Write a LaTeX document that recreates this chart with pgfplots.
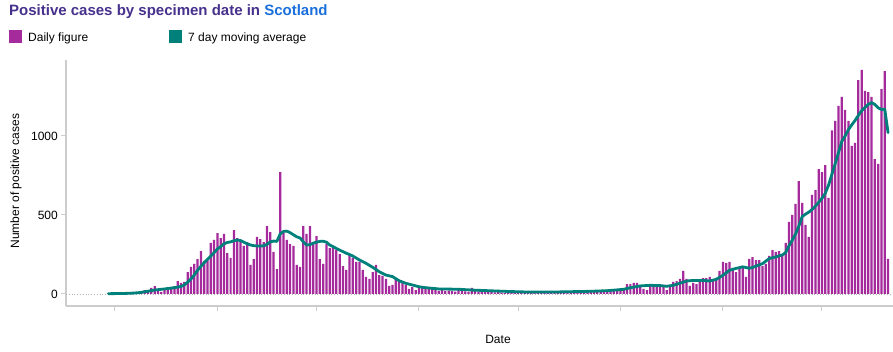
\documentclass[border=0pt]{standalone}
\usepackage{fontspec}
\setmainfont{Liberation Sans}
\usepackage{pgfplots}
\usepackage{pgfplotstable}
\pgfplotsset{compat=1.18}
\definecolor{barpurple}{HTML}{A52A9C}
\definecolor{avgteal}{HTML}{00807A}
\definecolor{titlepurple}{HTML}{46318C}
\definecolor{titleblue}{HTML}{1A6FDB}
\definecolor{axgray}{HTML}{CCCCCC}

\pgfplotstableread{
d v
-2 1
-1 0
0 1
1 1
2 3
3 5
4 3
5 8
6 10
7 14
8 18
9 25
10 21
11 38
12 50
13 21
14 13
15 25
16 44
17 44
18 50
19 82
20 70
21 76
22 139
23 171
24 190
25 221
26 272
27 209
28 221
29 323
30 342
31 386
32 354
33 380
34 259
35 228
36 405
37 354
38 342
39 304
40 329
41 184
42 221
43 361
44 348
45 329
46 430
47 392
48 266
49 158
50 772
51 386
52 342
53 316
54 304
55 184
56 171
57 430
58 380
59 430
60 329
61 367
62 221
63 190
64 316
65 291
66 291
67 278
68 253
69 177
70 152
71 247
72 228
73 203
74 203
75 152
76 108
77 95
78 139
79 184
80 120
81 114
82 95
83 51
84 57
85 95
86 82
87 76
88 57
89 32
90 44
91 25
92 44
93 38
94 32
95 32
96 32
97 25
98 19
99 25
100 19
101 22
102 18
103 15
104 24
105 20
106 17
107 14
108 38
109 20
110 16
111 12
112 20
113 18
114 14
115 10
116 12
117 8
118 6
119 14
120 12
121 9
122 7
123 12
124 10
125 5
126 8
127 14
128 11
129 9
130 12
131 15
132 10
133 13
134 16
135 12
136 9
137 14
138 18
139 13
140 11
141 16
142 20
143 14
144 12
145 18
146 22
147 17
148 24
149 20
150 28
151 30
152 25
153 32
154 36
155 63
156 63
157 70
158 70
159 51
160 32
161 25
162 51
163 57
164 57
165 63
166 51
167 25
168 44
169 76
170 82
171 95
172 146
173 95
174 51
175 70
176 63
177 89
178 101
179 101
180 108
181 82
182 95
183 146
184 203
185 196
186 203
187 165
188 139
189 165
190 177
191 108
192 222
193 234
194 215
195 215
196 177
197 190
198 241
199 278
200 266
201 272
202 241
203 323
204 456
205 500
206 570
207 715
208 576
209 437
210 361
211 627
212 658
213 791
214 772
215 816
216 608
217 1035
218 1095
219 1190
220 1247
221 1165
222 1095
223 937
224 956
225 1354
226 1418
227 1285
228 1278
229 1247
230 854
231 823
232 1297
233 1411
234 222
}\dailydata

\pgfplotstableread{
d v
-2 2
2 3
5 5
7 8
9 14
12 25
15 32
18 40
20 48
21 58
22 75
23 95
24 120
25 150
26 175
27 198
28 220
29 240
30 262
31 285
32 300
33 318
34 326
35 330
36 337
37 342
38 338
39 328
40 318
41 310
42 306
43 304
44 304
45 305
46 314
47 330
48 335
49 333
50 380
51 396
52 398
53 388
54 375
55 362
56 355
57 330
58 310
59 312
60 322
61 328
62 333
63 334
64 328
65 310
66 300
67 288
68 278
69 268
70 258
71 250
72 240
73 228
74 215
76 194
78 169
80 141
82 120
84 110
86 84
88 68
90 57
92 46
94 40
98 32
104 30
108 25
114 20
119 16
124 13
134 13
144 17
149 21
152 26
154 30
156 40
159 51
162 55
165 53
167 49
169 55
171 68
173 82
175 86
178 86
180 82
182 93
184 118
186 150
188 162
190 172
192 163
193 168
195 184
196 192
198 224
200 235
202 247
203 262
204 305
205 340
206 380
207 430
208 490
209 505
210 518
211 535
212 556
213 580
214 606
215 637
216 690
217 758
218 825
219 895
220 966
221 1000
222 1040
223 1070
224 1098
225 1130
226 1160
227 1180
228 1200
229 1211
230 1200
231 1178
232 1168
233 1170
234 1021
}\avgdata

\begin{document}
\begin{tikzpicture}[x=1bp,y=1bp]
\useasboundingbox (0,0) rectangle (893,351);
\node[anchor=base west, inner sep=0pt, font=\fontsize{15bp}{17bp}\selectfont\bfseries] at (9,336)
  {\textcolor{titlepurple}{Positive cases by specimen date in }\textcolor{titleblue}{Scotland}};
\fill[barpurple] (9,308) rectangle (22,321);
\node[anchor=base west, inner sep=0pt, font=\fontsize{12bp}{14bp}\selectfont] at (28,310) {Daily figure};
\fill[avgteal] (169,308) rectangle (182,321);
\node[anchor=base west, inner sep=0pt, font=\fontsize{12bp}{14bp}\selectfont] at (188,310) {7 day moving average};
\node[rotate=90, inner sep=0pt, font=\fontsize{12bp}{14bp}\selectfont] at (16,170) {Number of positive cases};
\node[inner sep=0pt, font=\fontsize{12bp}{14bp}\selectfont] at (498,12) {Date};
\begin{axis}[
  at={(66bp,45bp)}, anchor=south west,
  scale only axis, width=827bp, height=246bp,
  xmin=-14.83, xmax=235.5, ymin=-76, ymax=1481,
  axis x line*=bottom, axis y line*=left,
  axis line style={axgray, line width=1.2bp, -},
  ytick={0,500,1000},
  xtick={0,31,61,92,122,153,184,214}, xticklabels={},
  tick align=outside, major tick length=5bp,
  tick style={axgray, line width=1bp},
  yticklabel style={font=\fontsize{12bp}{14bp}\selectfont, inner sep=0pt, xshift=-3bp},
  /pgf/number format/assume math mode=true,
  /pgf/number format/1000 sep={},
]
\addplot[gray!60, dotted, line width=0.8bp, forget plot] coordinates {(-14.83,0) (235.5,0)};
\addplot[ybar, bar width=0.68, bar shift=0pt, fill=barpurple, draw=none] table[x=d,y=v] {\dailydata};
\addplot[avgteal, line width=2.8bp, line join=round, line cap=round] table[x=d,y=v] {\avgdata};
\end{axis}
\end{tikzpicture}
\end{document}
